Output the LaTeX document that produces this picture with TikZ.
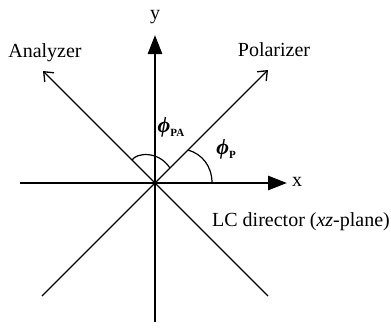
\documentclass[tikz,border=0pt]{standalone}
\usepackage{fontspec}
\setmainfont{Liberation Serif}
\usetikzlibrary{arrows.meta}
\newcommand{\myphi}{{\bfseries\itshape\symbol{"03D5}}}
\begin{document}
\begin{tikzpicture}[x=1pt,y=-1pt,
  axis/.style={line width=2.8pt,-{Triangle[length=19pt,width=14pt]}},
  diag/.style={line width=1.3pt},
  angarc/.style={line width=1.2pt},
  lbl/.style={font=\fontsize{20}{24}\selectfont, inner sep=0pt}]
\useasboundingbox (0,0) rectangle (391,333);
\coordinate (O) at (155,183);
\coordinate (xl) at (20,183);
\coordinate (xr) at (287,183);
\coordinate (yb) at (155,322);
\coordinate (yt) at (155,35);
\coordinate (ne) at (268,70);
\coordinate (sw) at (42,296);
\coordinate (nw) at (43,71);
\coordinate (se) at (268,296);
\draw[axis] (xl) -- (xr);
\draw[axis] (yb) -- (yt);
\draw[diag,-{Straight Barb[length=8pt,width=13pt,line width=1.3pt]}] (sw) -- (ne);
\draw[diag,-{Straight Barb[length=8pt,width=13pt,line width=1.3pt]}] (se) -- (nw);
\node[lbl] (ylab) at (155,17) {y};
\node[lbl] (xlab) at (297,182) {x};
\node[lbl] (ana) at (45,53) {Analyzer};
\node[lbl] (pol) at (274,50) {Polarizer};
\node[lbl] (lc) at (301,222) {LC director (\textit{xz}-plane)};
\node[lbl] (phipa) at (171,127) {\fontsize{22}{24}\selectfont\myphi\raisebox{-4pt}{\fontsize{11}{12}\selectfont\bfseries PA}};
\node[lbl] (phip) at (226,149) {\fontsize{22}{24}\selectfont\myphi\raisebox{-4pt}{\fontsize{11}{12}\selectfont\bfseries P}};
\draw[angarc] (212,183) .. controls (212,166) and (202,154) .. (188,150);
\draw[angarc] (132,160) .. controls (136,153) and (158,150) .. (170,168);
\end{tikzpicture}
\end{document}
